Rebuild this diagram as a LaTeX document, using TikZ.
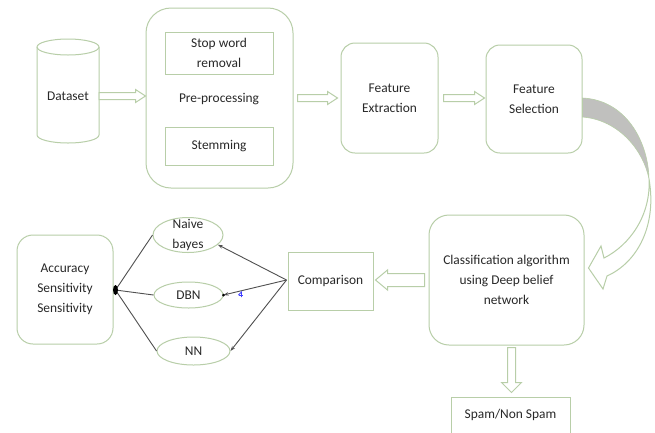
\documentclass[tikz,border=0pt]{standalone}
\usepackage{fontspec}
\setmainfont{Carlito}
\usetikzlibrary{calc,shapes.geometric,arrows.meta}
\definecolor{boxgreen}{RGB}{184,206,168}
\definecolor{txt}{RGB}{40,40,40}
\definecolor{conn}{RGB}{80,80,80}
\definecolor{bandgray}{RGB}{192,192,190}
% block arrow: #1 start, #2 end, #3 shaft half, #4 head half, #5 head length
\newcommand{\blkR}[5]{\draw[blockarr] let \p1=(#1), \p2=(#2) in
  (\x1,\y1+#3) -- (\x2-#5,\y1+#3) -- (\x2-#5,\y1+#4) -- (\x2,\y1) -- (\x2-#5,\y1-#4) -- (\x2-#5,\y1-#3) -- (\x1,\y1-#3) -- cycle;}
\newcommand{\blkL}[5]{\draw[blockarr] let \p1=(#1), \p2=(#2) in
  (\x1,\y1+#3) -- (\x2+#5,\y1+#3) -- (\x2+#5,\y1+#4) -- (\x2,\y1) -- (\x2+#5,\y1-#4) -- (\x2+#5,\y1-#3) -- (\x1,\y1-#3) -- cycle;}
\newcommand{\blkD}[5]{\draw[blockarr] let \p1=(#1), \p2=(#2) in
  (\x1-#3,\y1) -- (\x1-#3,\y2+#5) -- (\x1-#4,\y2+#5) -- (\x1,\y2) -- (\x1+#4,\y2+#5) -- (\x1+#3,\y2+#5) -- (\x1+#3,\y1) -- cycle;}
\tikzset{
  boxline/.style={draw=boxgreen, line width=1pt},
  rbox/.style={boxline, rounded corners=#1, align=center, text=txt, inner sep=0pt},
  rbox/.default=14pt,
  sbox/.style={boxline, align=center, text=txt, inner sep=0pt},
  ell/.style={boxline, ellipse, inner sep=0pt},
  lbl/.style={text=txt, align=center, inner sep=0pt},
  blockarr/.style={draw=boxgreen, fill=white, line width=1pt},
  conn/.style={draw=conn, line width=0.9pt},
  connarr/.style={conn, -{Stealth[length=5pt,width=3.5pt]}},
}
\begin{document}
\begin{tikzpicture}[x=1pt,y=-1pt, font=\fontsize{13.4}{20}\selectfont]
\useasboundingbox (0,0) rectangle (655,432);
\fill[white] (0,0) rectangle (655,432);

% Dataset cylinder
\draw[boxline] (37,47) -- (37,135) arc[start angle=180, end angle=360, x radius=31pt, y radius=8pt] -- (99,47);
\draw[boxline] (68,47) ellipse (31pt and 8pt);
\node[lbl, minimum width=62, minimum height=20] (ds) at (68,96) {Dataset};

% Pre-processing
\node[rbox=25pt, minimum width=147, minimum height=180] (pre) at (219.5,98) {};
\node[sbox, minimum width=108, minimum height=42] (stop) at (219,53) {Stop word\\removal};
\node[lbl] (pretxt) at (219,99) {Pre-processing};
\node[sbox, minimum width=108, minimum height=38] (stem) at (219,146) {Stemming};

% Feature boxes
\node[rbox=14pt, minimum width=97, minimum height=110] (fe) at (389.5,98) {Feature\\Extraction};
\node[rbox=14pt, minimum width=96, minimum height=108] (fs) at (534,99) {Feature\\Selection};

% Classification, comparison, spam
\node[rbox=20pt, minimum width=155, minimum height=130] (cls) at (506.5,280) {Classification algorithm\\using Deep belief\\network};
\node[sbox, minimum width=85, minimum height=58] (cmp) at (330.5,281) {Comparison};
\node[sbox, minimum width=119, minimum height=43] (spam) at (510.5,418.5) {};
\node[lbl] (spamtxt) at (510.5,415) {Spam/Non Spam};

% Left part
\node[rbox=16pt, minimum width=96, minimum height=109] (acc) at (65,289.5) {Accuracy\\Sensitivity\\Sensitivity};
\node[ell, minimum width=70, minimum height=35] (nb) at (188,235) {};
\node[lbl] at (nb) {Naive\\bayes};
\node[ell, minimum width=69, minimum height=26] (dbn) at (188.5,295) {};
\node[lbl] at (dbn) {DBN};
\node[ell, minimum width=73, minimum height=28] (nn) at (193.5,351) {};
\node[lbl] at (nn) {NN};

% straight block arrows
\blkR{ds.east}{pre.west}{3.5pt}{6.5pt}{10pt}
\blkR{$(pre.east)+(4,0)$}{$(fe.west)+(-3,0)$}{3.5pt}{6.5pt}{10pt}
\blkR{$(fe.east)+(5,0)$}{$(fs.west)+(-1,0)$}{3.5pt}{6.5pt}{10pt}
\blkL{$(cls.west)+(-4,0)$}{$(cmp.east)+(2,0)$}{6.5pt}{10pt}{12pt}
\blkD{$(cls.south)+(5,2)$}{$(spam.north)+(0,-4)$}{4pt}{10pt}{10pt}

% curved arrow from Feature Selection to Classification
\coordinate (bandtop) at ($(fs.east)+(0,-1)$);
\coordinate (bandbot) at ($(fs.east)+(0,18)$);
\coordinate (twist) at (649,179);
\coordinate (tip) at ($(cls.east)+(4,-12)$);
\draw[draw=boxgreen, fill=bandgray, line width=0.6pt] (bandtop) .. controls (625,100) and (648,140) .. (twist) .. controls (644,152) and (620,120) .. (bandbot) -- cycle;
\draw[blockarr] (twist) .. controls (651,215) and (630,245) .. (604,258) -- (601,246) -- (tip) -- (603,289) -- (607,276) .. controls (638,262) and (657,225) .. (twist) -- cycle;

% connectors on the left
\coordinate (hub) at ($(acc.east)+(2,0.5)$);
\draw[conn] (hub) -- (nb.west);
\draw[conn] (hub) -- (dbn.west);
\draw[conn] (hub) -- (nn.west);
\fill[black] (hub) ellipse (2.5pt and 5pt);
\coordinate (cmpw) at ($(cmp.west)+(-1,-1)$);
\draw[connarr] (cmpw) -- (nb.-18);
\draw[connarr] (cmpw) -- (dbn.east);
\draw[connarr] (cmpw) -- (nn.east);
\fill[black] (dbn.east) circle (1.5pt);
\coordinate (bluemark) at ($(dbn.east)+(17,0)$);
\draw[blue!75!white, line width=0.8pt] ($(bluemark)+(-2,0)$) -- ($(bluemark)+(1,-3)$) -- ($(bluemark)+(1,2)$);
\draw[blue!75!white, line width=0.8pt] ($(bluemark)+(-2,0)$) -- ($(bluemark)+(2,0)$);
\end{tikzpicture}
\end{document}
